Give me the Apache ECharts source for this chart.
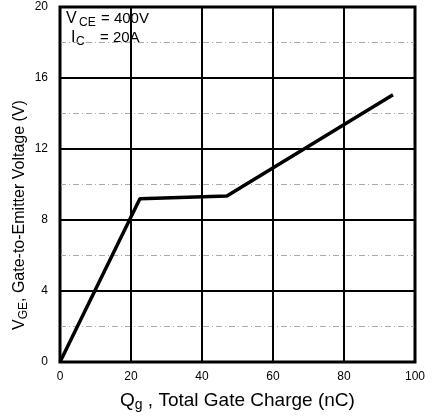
<!DOCTYPE html>
<html>
<head>
<meta charset="utf-8">
<script src="https://cdn.jsdelivr.net/npm/echarts@6/dist/echarts.min.js"></script>
<style>
  html, body { margin: 0; padding: 0; background: #fff; }
  #chart { width: 437px; height: 416px; }
</style>
</head>
<body>
<div id="chart"></div>
<script>
// gate charge curve, Qg (nC) vs VGE (V)
var qg = [0, 22.5, 47, 93.8];
var vge = [0, 9.2, 9.35, 15.05];
var xTicks = [0, 20, 40, 60, 80, 100];
var yTicks = [0, 4, 8, 12, 16, 20];

var chart = echarts.init(document.getElementById('chart'), null, { renderer: 'canvas' });
var font = 'Liberation Sans, Arial, sans-serif';

function txt(size) {
  return { fontSize: size, fontFamily: font, fill: '#000' };
}

var option = {
  animation: false,
  grid: {
    left: 60,
    right: 22,
    top: 7,
    bottom: 54,
    show: true,
    borderColor: '#000',
    borderWidth: 3
  },
  xAxis: {
    type: 'value',
    min: xTicks[0],
    max: xTicks[xTicks.length - 1],
    interval: 20,
    axisLine: { show: false },
    axisTick: { show: false },
    axisLabel: { color: '#000', fontSize: 12, fontFamily: font, margin: 9 },
    splitLine: { lineStyle: { color: '#000', width: 2 } }
  },
  yAxis: {
    type: 'value',
    min: yTicks[0],
    max: yTicks[yTicks.length - 1],
    interval: 4,
    axisLine: { show: false },
    axisTick: { show: false },
    axisLabel: { color: '#000', fontSize: 12, fontFamily: font, margin: 12 },
    splitLine: { lineStyle: { color: '#000', width: 2 } },
    minorTick: { show: false, splitNumber: 2 },
    minorSplitLine: { show: true, lineStyle: { color: '#aaa', width: 1, type: [6, 3, 1, 3] } }
  },
  series: [{
    type: 'line',
    data: qg.map(function (x, i) { return [x, vge[i]]; }),
    showSymbol: false,
    lineStyle: { color: '#000', width: 3.5 }
  }],
  graphic: [
    { type: 'text', left: 66, top: 11, style: Object.assign({ text: 'V' }, txt(16)) },
    { type: 'text', left: 79, top: 17, style: Object.assign({ text: 'CE' }, txt(12)) },
    { type: 'text', left: 101, top: 11, style: Object.assign({ text: '= 400V' }, txt(15)) },
    { type: 'text', left: 71, top: 30, style: Object.assign({ text: 'I' }, txt(16)) },
    { type: 'text', left: 76, top: 36, style: Object.assign({ text: 'C' }, txt(12)) },
    { type: 'text', left: 100, top: 30, style: Object.assign({ text: '= 20A' }, txt(15)) },
    {
      type: 'text', left: 120, top: 391,
      style: {
        text: '{m|Q}{s|g}{m| , Total Gate Charge (nC)}',
        rich: {
          m: txt(19),
          s: Object.assign({ padding: [9, 0, 0, 0] }, txt(14))
        }
      }
    },
    {
      type: 'text', x: 10, y: 330, rotation: Math.PI / 2,
      style: {
        text: '{m|V}{s|GE}{m|, Gate-to-Emitter Voltage (V)}',
        rich: {
          m: txt(16),
          s: Object.assign({ padding: [8, 0, 0, 0] }, txt(12))
        }
      }
    }
  ]
};

chart.setOption(option);
</script>
</body>
</html>
